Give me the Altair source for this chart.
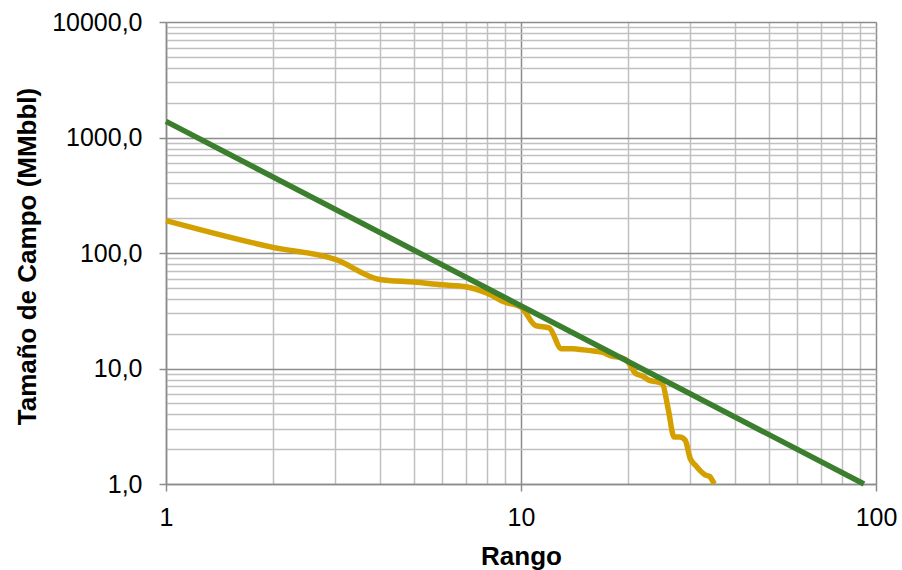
import altair as alt
import pandas as pd

# Observed field sizes by rank (MMbbl)
rango_real = list(range(1, 36))
tamano_real = [191, 112, 88, 59, 56, 53, 51, 45, 37.6, 34,
               23.5, 22.5, 14.8, 14.8, 14.5, 14.2, 13.8, 12.8, 12.5, 11.5,
               9.1, 8.6, 7.9, 7.7, 7.4, 4.4, 2.55, 2.55, 2.4, 1.65,
               1.45, 1.3, 1.2, 1.16, 1.0]

# Power-law fit (straight line on log-log axes)
rango_ajuste = [1, 92.5]
tamano_ajuste = [1380, 1.0]

# Tick positions: every 1-9 multiple of each decade
x_ticks = [1, 2, 3, 4, 5, 6, 7, 8, 9,
           10, 20, 30, 40, 50, 60, 70, 80, 90, 100]
y_ticks = [m * d for d in (1, 10, 100, 1000) for m in range(1, 10)] + [10000]

FONT = "Liberation Sans"
MAJOR = "abs(log(datum.value)/LN10 - round(log(datum.value)/LN10)) < 1e-6"
GRID_COLOR = {"condition": {"test": MAJOR, "value": "#8c8c8c"}, "value": "#c0c0c0"}
TICK_OPACITY = {"condition": {"test": MAJOR, "value": 1}, "value": 0}

df_real = pd.DataFrame({"rango": rango_real, "tamano": tamano_real})
df_ajuste = pd.DataFrame({"rango": rango_ajuste, "tamano": tamano_ajuste})

x_scale = alt.Scale(type="log", domain=[1, 100], nice=False)
y_scale = alt.Scale(type="log", domain=[1, 10000], nice=False)

x_axis = alt.Axis(
    values=x_ticks,
    title="Rango",
    labelExpr=f"{MAJOR} ? format(datum.value, 'd') : ''",
    grid=True, gridColor=GRID_COLOR, gridWidth=1.5,
    tickSize=7, tickWidth=1.5, tickColor="#8c8c8c", tickOpacity=TICK_OPACITY,
    domainColor="#8c8c8c", domainWidth=1.5,
    labelFont=FONT, labelFontSize=25, labelColor="#000000",
    labelBaseline="alphabetic", labelPadding=34,
    labelOverlap=False, labelFlush=False, labelBound=False,
    titleFont=FONT, titleFontSize=26, titleFontWeight="bold", titleColor="#000000",
    titleBaseline="alphabetic", titleY=80,
)

y_axis = alt.Axis(
    values=y_ticks,
    title="Tamaño de Campo (MMbbl)",
    labelExpr=f"{MAJOR} ? replace(format(datum.value, '.1f'), '.', ',') : ''",
    grid=True, gridColor=GRID_COLOR, gridWidth=1.5,
    tickSize=7, tickWidth=1.5, tickColor="#8c8c8c", tickOpacity=TICK_OPACITY,
    domainColor="#8c8c8c", domainWidth=1.5,
    labelFont=FONT, labelFontSize=25, labelColor="#000000",
    labelPadding=17, labelOverlap=False, labelFlush=False, labelBound=False,
    titleFont=FONT, titleFontSize=26, titleFontWeight="bold", titleColor="#000000",
    titleX=-126, titleY=234,
)

real = alt.Chart(df_real).mark_line(
    color="#D3A000", strokeWidth=5.5, interpolate="monotone"
).encode(
    x=alt.X("rango:Q", scale=x_scale, axis=x_axis),
    y=alt.Y("tamano:Q", scale=y_scale, axis=y_axis),
)

ajuste = alt.Chart(df_ajuste).mark_line(
    color="#3B7F2E", strokeWidth=5.5
).encode(
    x=alt.X("rango:Q", scale=x_scale),
    y=alt.Y("tamano:Q", scale=y_scale),
)

chart = alt.layer(real, ajuste).properties(
    width=710,
    height=462,
    autosize=alt.AutoSizeParams(type="none"),
    padding={"left": 166, "top": 22, "right": 26, "bottom": 86},
).configure_view(stroke=None).configure(background="white")

chart.save("out.html", embed_options={"renderer": "svg", "actions": False})
